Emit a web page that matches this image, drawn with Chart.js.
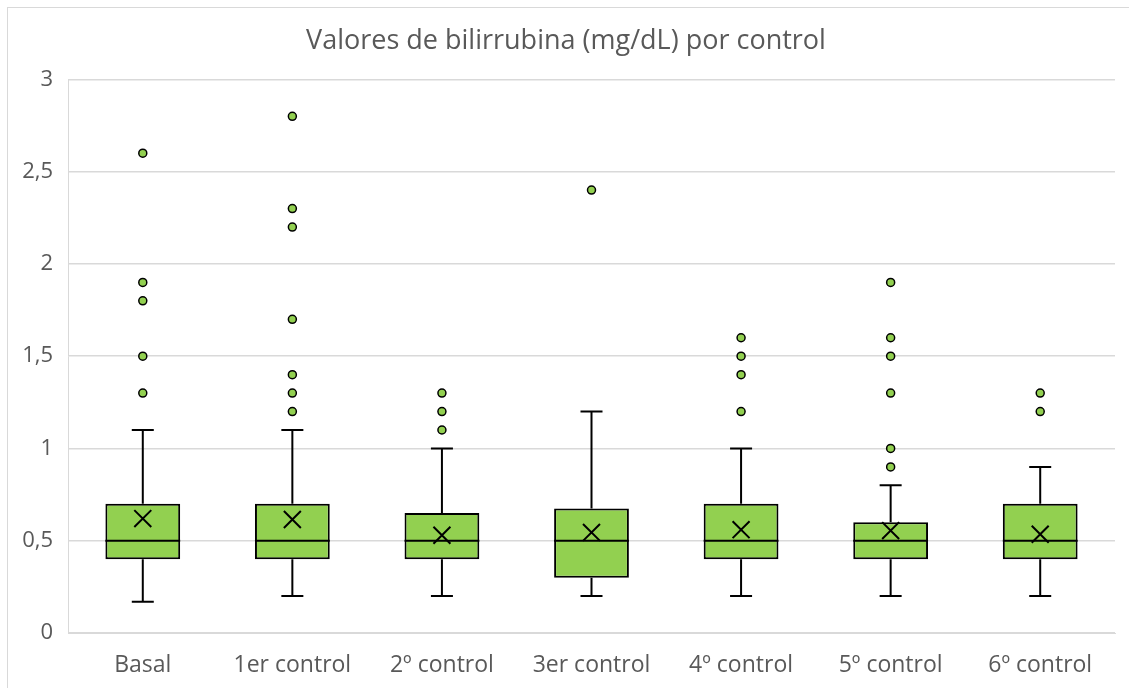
<!DOCTYPE html>
<html>
<head>
<meta charset="utf-8">
<script src="https://cdn.jsdelivr.net/npm/chart.js@4/dist/chart.umd.min.js"></script>
<style>
    body { margin: 0; background: #fff; }
    #wrap { position: relative; width: 1129px; height: 688px; overflow: hidden; }
    #frame { position: absolute; left: 7px; top: 7px; width: 1130px; height: 690px; border: 1px solid #d9d9d9; box-sizing: border-box; pointer-events: none; }
</style>
</head>
<body>
<div id="wrap">
    <canvas id="chart-1" width="1129" height="688"></canvas>
    <div id="frame"></div>
</div>
<script>
var categories = ['Basal', '1er control', '2º control', '3er control', '4º control', '5º control', '6º control'];
var minValues = [0.17, 0.2, 0.2, 0.2, 0.2, 0.2, 0.2];
var q1Values = [0.4, 0.4, 0.4, 0.3, 0.4, 0.4, 0.4];
var medianValues = [0.5, 0.5, 0.5, 0.5, 0.5, 0.5, 0.5];
var q3Values = [0.7, 0.7, 0.65, 0.675, 0.7, 0.6, 0.7];
var maxValues = [1.1, 1.1, 1.0, 1.2, 1.0, 0.8, 0.9];
var meanValues = [0.62, 0.615, 0.53, 0.545, 0.56, 0.555, 0.535];
var outlierValues = [
    [2.6, 1.9, 1.8, 1.5, 1.3],
    [2.8, 2.3, 2.2, 1.7, 1.4, 1.3, 1.2],
    [1.3, 1.2, 1.1],
    [2.4],
    [1.6, 1.5, 1.4, 1.2],
    [1.9, 1.6, 1.5, 1.3, 1.0, 0.9],
    [1.3, 1.2]
];
var yTicks = [0, 0.5, 1, 1.5, 2, 2.5, 3];

var textColor = '#595959';
var fontFamily = '"Open Sans", sans-serif';

var boxData = [], meanData = [], outlierData = [];
categories.forEach(function (cat, i) {
    boxData.push([q1Values[i], q3Values[i]]);
    meanData.push({x: cat, y: meanValues[i]});
    outlierValues[i].forEach(function (v) {
        outlierData.push({x: cat, y: v});
    });
});

// whiskers + median line, drawn from the scales
var boxPlotExtras = {
    id: 'boxPlotExtras',
    afterDatasetsDraw: function (chart) {
        var ctx = chart.ctx,
            yScale = chart.scales.y,
            meta = chart.getDatasetMeta(0);

        ctx.save();
        ctx.strokeStyle = '#000';
        ctx.lineWidth = 2;
        meta.data.forEach(function (bar, i) {
            var x = bar.x,
                half = bar.width / 2,
                cap = 11,
                yMin = yScale.getPixelForValue(minValues[i]),
                yQ1 = yScale.getPixelForValue(q1Values[i]),
                yMed = yScale.getPixelForValue(medianValues[i]),
                yQ3 = yScale.getPixelForValue(q3Values[i]),
                yMax = yScale.getPixelForValue(maxValues[i]);

            ctx.beginPath();
            ctx.moveTo(x, yQ3); ctx.lineTo(x, yMax);
            ctx.moveTo(x - cap, yMax); ctx.lineTo(x + cap, yMax);
            ctx.moveTo(x, yQ1); ctx.lineTo(x, yMin);
            ctx.moveTo(x - cap, yMin); ctx.lineTo(x + cap, yMin);
            ctx.moveTo(x - half, yMed); ctx.lineTo(x + half, yMed);
            ctx.stroke();
        });
        ctx.restore();
    }
};

new Chart('chart-1', {
    type: 'bar',
    data: {
        labels: categories,
        datasets: [{
            label: 'Caja',
            data: boxData,
            backgroundColor: '#92d050',
            borderColor: '#000',
            borderWidth: 2,
            borderSkipped: false,
            barPercentage: 0.5,
            categoryPercentage: 1,
            order: 3
        }, {
            type: 'scatter',
            label: 'Media',
            data: meanData,
            pointStyle: 'crossRot',
            radius: 12,
            borderColor: '#000',
            borderWidth: 2,
            order: 1
        }, {
            type: 'scatter',
            label: 'Valores atípicos',
            data: outlierData,
            pointStyle: 'circle',
            radius: 4,
            backgroundColor: '#92d050',
            borderColor: '#000',
            borderWidth: 1.5,
            order: 2
        }]
    },
    options: {
        responsive: false,
        animation: false,
        layout: { padding: { left: 8, right: 5, top: 25, bottom: 0 } },
        plugins: {
            legend: { display: false },
            tooltip: { enabled: false },
            title: {
                display: true,
                text: 'Valores de bilirrubina (mg/dL) por control',
                color: textColor,
                font: { family: fontFamily, size: 27, weight: 'normal' },
                padding: { top: 0, bottom: 22 }
            }
        },
        scales: {
            x: {
                type: 'category',
                offset: true,
                afterFit: function (scale) { scale.height = 55; },
                grid: { display: false, drawTicks: false },
                border: { display: true, color: '#d9d9d9', width: 1 },
                ticks: { color: textColor, font: { family: fontFamily, size: 23 }, padding: 19 }
            },
            y: {
                min: 0,
                max: 3,
                afterBuildTicks: function (scale) {
                    scale.ticks = yTicks.map(function (v) { return {value: v}; });
                },
                afterFit: function (scale) { scale.width = 60; },
                grid: { color: '#d9d9d9', lineWidth: 1.5, drawTicks: false },
                border: { display: true, color: '#d9d9d9', width: 1 },
                ticks: {
                    color: textColor,
                    font: { family: fontFamily, size: 22 },
                    padding: 15,
                    callback: function (v) { return String(v).replace('.', ','); }
                }
            }
        }
    },
    plugins: [boxPlotExtras]
});
</script>
</body>
</html>
